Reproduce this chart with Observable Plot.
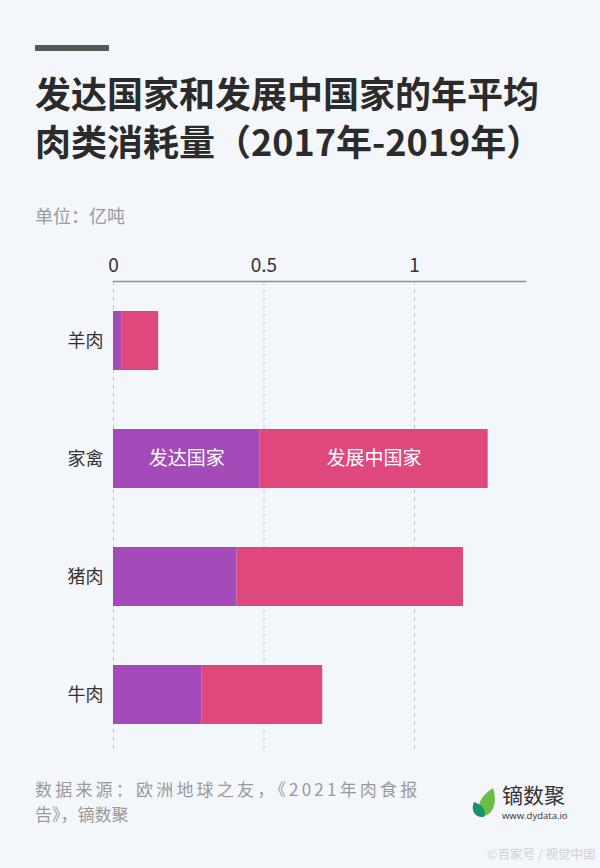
<!DOCTYPE html>
<html>
<head>
<meta charset="utf-8">
<script src="https://cdn.jsdelivr.net/npm/d3@7"></script>
<script src="https://cdn.jsdelivr.net/npm/@observablehq/plot@0.6"></script>
<style>
  html, body { margin: 0; padding: 0; }
  body { width: 600px; height: 868px; background: #f3f6fa; position: relative; overflow: hidden;
         font-family: "Noto Sans CJK SC", "Noto Sans", sans-serif; }
  .bar { position: absolute; left: 35px; top: 45px; width: 74px; height: 6px; background: #555759; }
  .title { position: absolute; left: 35px; top: 68px; font-size: 36px; font-weight: 700; color: #2b2b2b; line-height: 48px; white-space: nowrap; }
  .subtitle { position: absolute; left: 35px; top: 202px; font-size: 18px; color: #9a9a9a; line-height: 26px; }
  #chart { position: absolute; left: 0; top: 240px; }
  .src { position: absolute; left: 35px; font-size: 17px; color: #9a9a9a; white-space: nowrap; line-height: 24px; }
  .logo { position: absolute; left: 471px; top: 786px; }
  .logo-name { position: absolute; left: 502px; top: 784px; font-size: 21px; color: #333; line-height: 21px; white-space: nowrap; }
  .logo-url { position: absolute; left: 502px; top: 811px; font-size: 9.5px; color: #333; font-family: "Open Sans", sans-serif; line-height: 10px; white-space: nowrap; }
  .watermark { position: absolute; left: 487px; top: 846px; font-size: 12.5px; color: #cfd2d6; white-space: nowrap; line-height: 16px; }
</style>
</head>
<body>
<div class="bar"></div>
<div class="title">发达国家和发展中国家的年平均<br>肉类消耗量（2017年-2019年）</div>
<div class="subtitle">单位：亿吨</div>
<div id="chart"></div>
<div class="src" style="top: 777px; letter-spacing: 3.2px;">数据来源：欧洲地球之友，《2021年肉食报</div>
<div class="src" style="top: 802px;">告》，镝数聚</div>
<svg class="logo" width="28" height="34" viewBox="0 0 28 34">
  <path d="M14 30 C 4 26, 6 12, 22 2 C 26 14, 24 26, 14 30 Z" fill="#6dbd45"/>
  <path d="M13 31 C 2 32, 0 22, 3 16 C 10 18, 16 24, 13 31 Z" fill="#1b8f72"/>
</svg>
<div class="logo-name">镝数聚</div>
<div class="logo-url">www.dydata.io</div>
<div class="watermark">©百家号 / 视觉中国</div>
<script>
const categories = ["羊肉", "家禽", "猪肉", "牛肉"];
const groups = ["发达国家", "发展中国家"];
const developed = [0.027, 0.486, 0.411, 0.293];
const developing = [0.123, 0.759, 0.752, 0.402];
const colors = ["#a34bb9", "#de487c"];
const xTicks = [0, 0.5, 1];
const labelledCategory = "家禽";

const rows = [];
categories.forEach((c, i) => {
  rows.push({cat: c, group: groups[0], value: developed[i]});
  rows.push({cat: c, group: groups[1], value: developing[i]});
});

const chart = Plot.plot({
  width: 600,
  height: 513,
  marginTop: 41,
  marginBottom: 0,
  marginLeft: 113,
  marginRight: 75,
  style: {background: "transparent", fontFamily: "'Noto Sans CJK SC', sans-serif", color: "#333"},
  x: {domain: [0, 1.369]},
  y: {domain: categories, paddingInner: 0.5, paddingOuter: 0.245, align: 0.5},
  color: {domain: groups, range: colors},
  marks: [
    Plot.gridX(xTicks, {stroke: "#c3c8cf", strokeOpacity: 1, strokeDasharray: "4,4"}),
    Plot.barX(rows, Plot.stackX({y: "cat", x: "value", fill: "group"})),
    Plot.frame({anchor: "top", stroke: "#8c9096", strokeWidth: 1.5}),
    Plot.axisX(xTicks, {anchor: "top", tickSize: 0, tickPadding: 10, fontSize: 19, fill: "#333", tickFormat: d => String(d), label: null}),
    Plot.axisY({tickSize: 0, tickPadding: 10, fontSize: 18, fill: "#333", label: null}),
    Plot.text(rows.filter(d => d.cat === labelledCategory), Plot.stackX({y: "cat", x: "value", text: "group", fill: "white", fontSize: 19}))
  ]
});
document.getElementById("chart").appendChild(chart);
</script>
</body>
</html>
